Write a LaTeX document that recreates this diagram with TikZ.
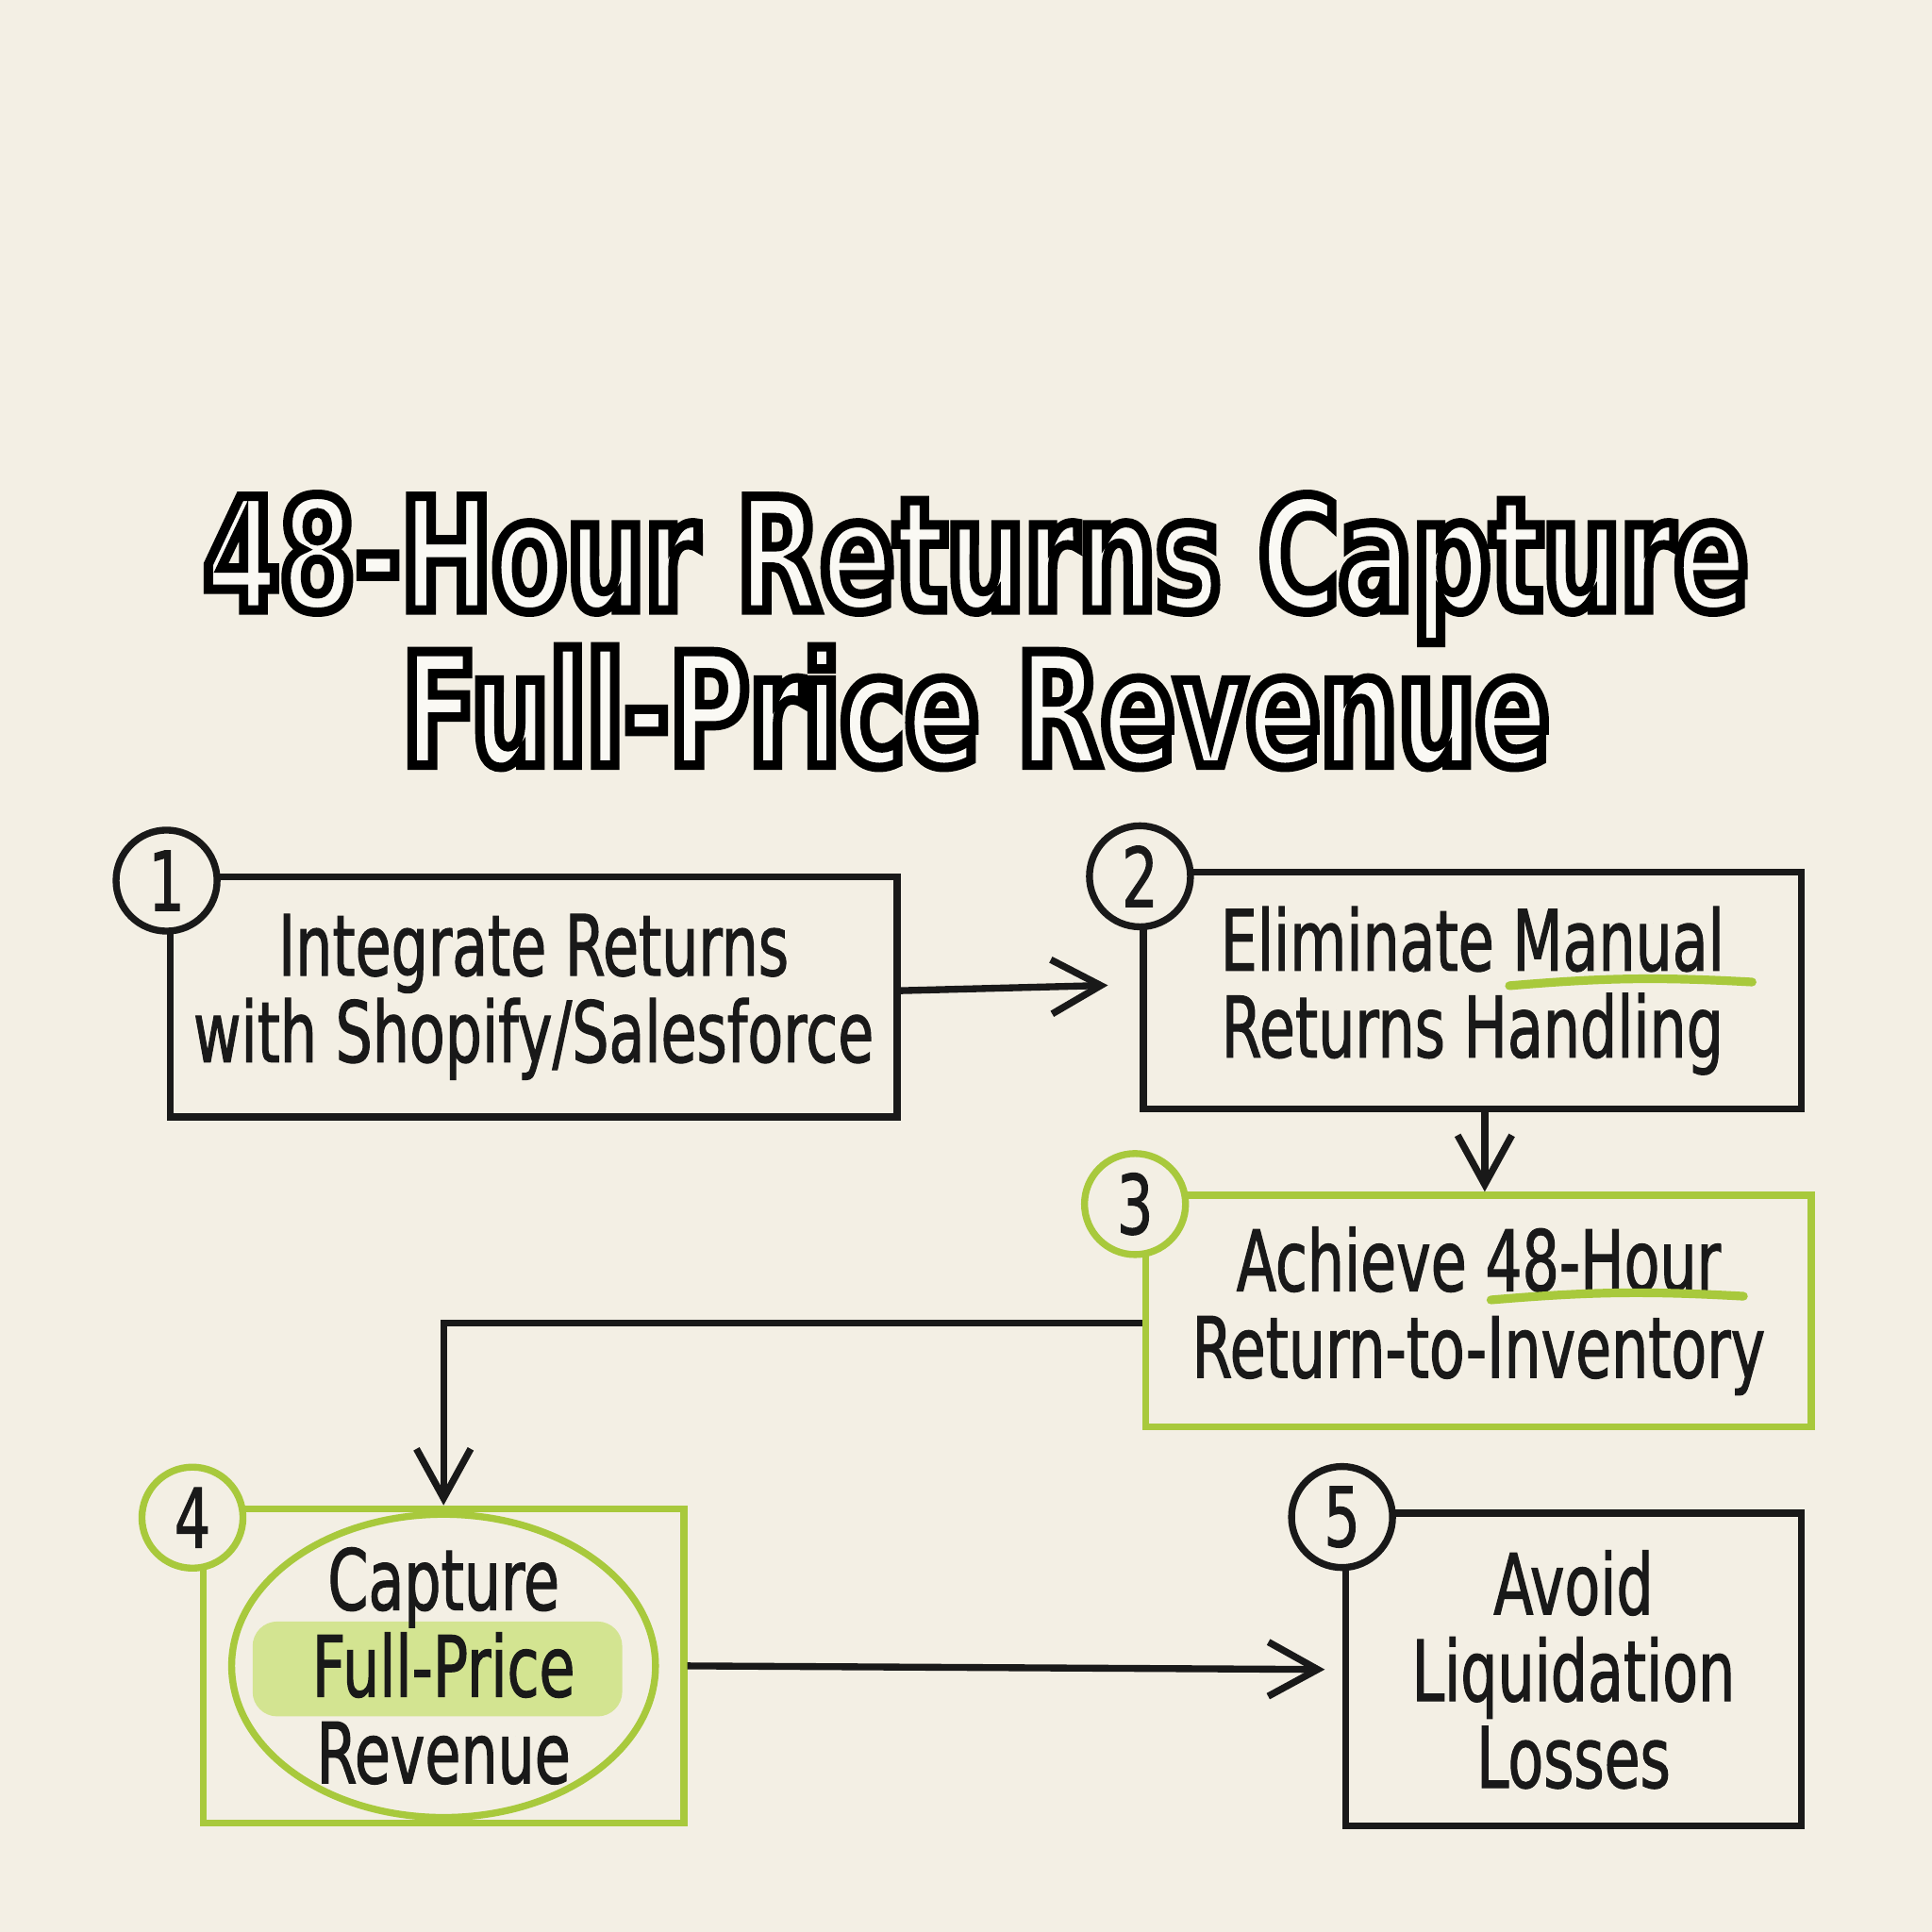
\documentclass[tikz,border=0pt]{standalone}
\usepackage{fontspec}
\usetikzlibrary{arrows.meta,positioning}
\newfontfamily\rukopis{DejaVu Sans}[FakeStretch=0.69,FakeBold=1.2]
\newfontfamily\naslovni{DejaVu Sans}[FakeStretch=0.7,BoldFeatures={FakeBold=6}]
\definecolor{PVpapir}{HTML}{F3EFE4}
\definecolor{PVzelena}{HTML}{A8C93C}
\definecolor{PVisticanje}{HTML}{D3E491}
\colorlet{PVtinta}{black!90}
\newcommand\obrub{\special{pdf:literal direct 0 0 0 RG}}
\pgfdeclarelayer{pozadina}
\pgfsetlayers{pozadina,main}

\begin{document}
\begin{tikzpicture}[font=\rukopis\fontsize{19.5}{20}\selectfont,x=.1mm,y=-.1mm,
  korak/.style={draw=PVtinta,line width=1.6pt,align=center,inner sep=0pt,text=PVtinta},
  korakz/.style={korak,draw=PVzelena},
  broj/.style={circle,draw=PVtinta,fill=PVpapir,line width=1.6pt,minimum size=8.2mm,inner sep=0pt,
    font=\rukopis\fontsize{19}{19}\selectfont,text=PVtinta},
  strel/.style={draw=PVtinta,line width=1.6pt,-{Straight Barb[length=4mm,width=4.4mm]}},
  crta/.style={draw=PVzelena,line width=2pt,line cap=round}]
\useasboundingbox (0,0) rectangle (1568,1568);

\node[align=center,text=white!60!PVpapir,font=\naslovni\bfseries\fontsize{36}{33}\selectfont] (naslov) at (792,512)
  {\obrub 48-Hour Returns Capture\\\obrub Full-Price Revenue};

\node[korak,minimum width=5.9cm,minimum height=1.95cm] (b1) at (433,809) {Integrate Returns\\with Shopify/Salesforce};
\node[korak,minimum width=5.34cm,minimum height=1.92cm] (b2) at (1195,804) {Eliminate Manual\\Returns Handling};
\node[korakz,minimum width=5.4cm,minimum height=1.88cm] (b3) at (1200,1064) {Achieve 48-Hour\\Return-to-Inventory};
\node[korakz,minimum width=3.9cm,minimum height=2.55cm] (b4) at (360,1352) {Capture\\Full-Price\\Revenue};
\node[korak,minimum width=3.7cm,minimum height=2.54cm] (b5) at (1277,1355) {Avoid\\Liquidation\\Losses};

\draw[PVzelena,line width=1.6pt] (b4.center) ellipse [x radius=1.72cm,y radius=1.23cm];
\draw[crta] ([shift={(30,-4)}]b2.center) to[bend left=4] ([shift={(227,-7)}]b2.center);
\draw[crta] ([shift={(10,-9)}]b3.center) to[bend left=4] ([shift={(215,-12)}]b3.center);

\foreach \i in {1,2,5}{\node[broj] (n\i) at ([yshift=-.6mm]b\i.north west) {\i};}
\foreach \i in {3,4}{\node[broj,draw=PVzelena] (n\i) at ([shift={(-6,10)}]b\i.north west) {\i};}

\draw[strel,shorten >=2.6mm] ([yshift=.5mm]b1.east) -- ([yshift=.5mm]b2.west);
\draw[strel] ([xshift=1mm]b2.south) -- ([xshift=1mm]b2.south |- b3.north);
\draw[strel] ([yshift=-1mm]b3.west) -| (b4.north);
\draw[strel,shorten >=1.4mm] (b4.east) -- (b5.west);

\begin{pgfonlayer}{pozadina}
\fill[PVpapir] (0,0) rectangle (1568,1568);
\fill[PVisticanje,rounded corners=2mm] ([shift={(-155,-36)}]b4.center) rectangle ([shift={(145,41)}]b4.center);
\end{pgfonlayer}
\end{tikzpicture}
\end{document}
